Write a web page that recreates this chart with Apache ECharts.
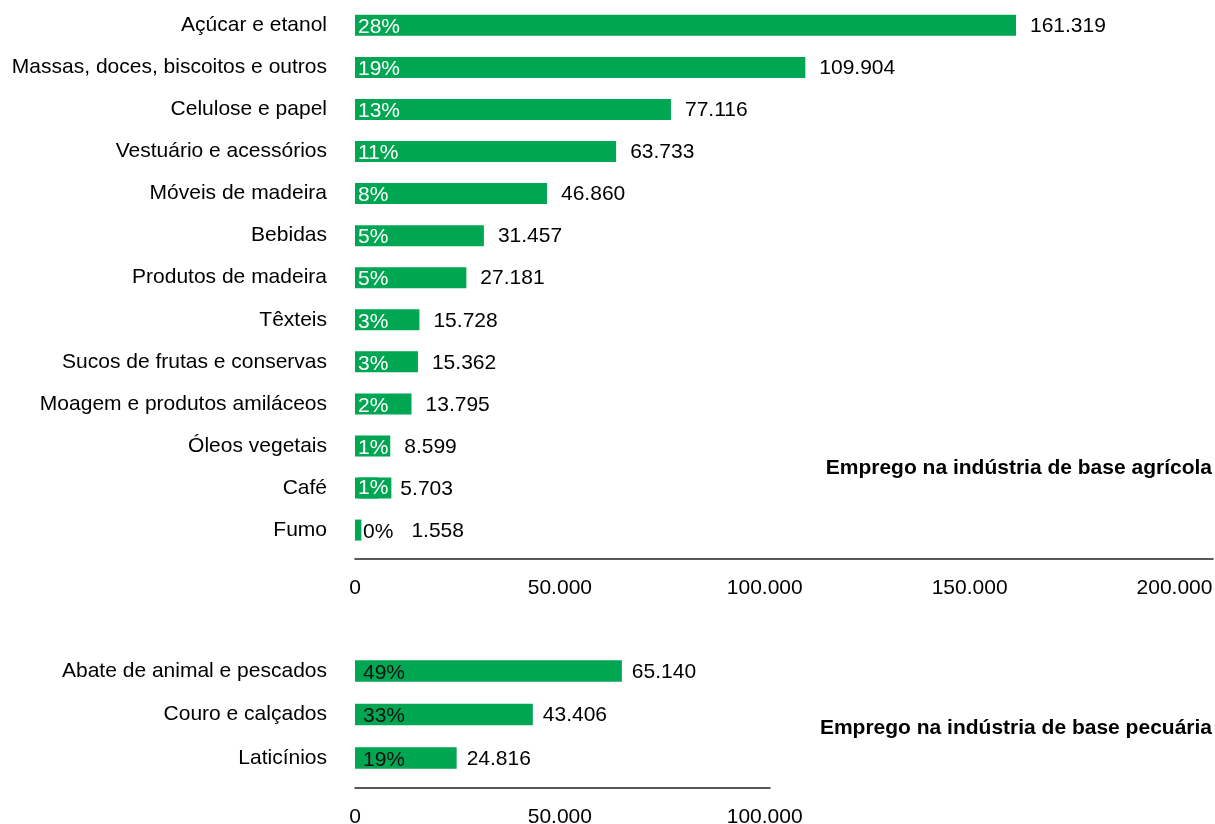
<!DOCTYPE html>
<html lang="pt-BR">
<head>
<meta charset="utf-8">
<title>Emprego na indústria de base agrícola e pecuária</title>
<script src="https://cdn.jsdelivr.net/npm/echarts@6/dist/echarts.min.js"></script>
<style>
  html, body { margin: 0; padding: 0; background: #fff; }
  #chart { width: 1215px; height: 824px; }
</style>
</head>
<body>
<div id="chart"></div>
<script>
// Agricultural-base industries: jobs and share of the total
const agriCategories = [
  'Açúcar e etanol',
  'Massas, doces, biscoitos e outros',
  'Celulose e papel',
  'Vestuário e acessórios',
  'Móveis de madeira',
  'Bebidas',
  'Produtos de madeira',
  'Têxteis',
  'Sucos de frutas e conservas',
  'Moagem e produtos amiláceos',
  'Óleos vegetais',
  'Café',
  'Fumo'
];
const agriJobs = [161319, 109904, 77116, 63733, 46860, 31457, 27181, 15728, 15362, 13795, 8599, 5703, 1558];
const agriShares = [28, 19, 13, 11, 8, 5, 5, 3, 3, 2, 1, 1, 0];
const agriTicks = [0, 50000, 100000, 150000, 200000];

// Livestock-base industries
const livestockCategories = ['Abate de animal e pescados', 'Couro e calçados', 'Laticínios'];
const livestockJobs = [65140, 43406, 24816];
const livestockShares = [49, 33, 19];
const livestockTicks = [0, 50000, 100000];

const agriTitle = 'Emprego na indústria de base agrícola';
const livestockTitle = 'Emprego na indústria de base pecuária';

const FONT = '"Liberation Sans", Arial, Helvetica, sans-serif';
const GREEN = '#00a651';
const INK = '#000';

// Brazilian thousands separator: 161319 -> "161.319"
function fmt(v) {
  return String(Math.round(v)).replace(/\B(?=(\d{3})+(?!\d))/g, '.');
}

// Per-category nudges for the labels beside and inside the bars
const valueGapAgri = { 'Café': 22, 'Fumo': 50 };
const shareStyleAgri = {
  'Fumo': { color: INK, distance: 8 },
  // the share label is wider than this short bar, so it gets a green box of its own
  'Café': { backgroundColor: GREEN, lineHeight: 21, padding: [0, 3, 0, 0], offset: [0, 0] }
};

function valueAxis(gridIndex, max, ticks) {
  return {
    type: 'value', gridIndex, min: 0, max, interval: 50000,
    offset: 8,
    axisLine: { show: true, onZero: false, lineStyle: { color: '#222', width: 1.5 } },
    axisTick: { show: false },
    splitLine: { show: false },
    axisLabel: {
      fontFamily: FONT, fontSize: 21, color: INK, margin: 19,
      formatter: v => (ticks.includes(v) ? fmt(v) : '')
    }
  };
}

function categoryAxis(gridIndex, cats) {
  return {
    type: 'category', gridIndex, data: cats, inverse: true,
    axisLine: { show: false }, axisTick: { show: false },
    axisLabel: { fontFamily: FONT, fontSize: 21, color: INK, margin: 28 }
  };
}

function shareSeries(idx, cats, vals, shares, barW, baseLabel, overrides) {
  return {
    type: 'bar', xAxisIndex: idx, yAxisIndex: idx, barWidth: barW, barGap: '-100%',
    silent: true,
    itemStyle: { color: GREEN },
    label: Object.assign({
      show: true, position: 'insideLeft', fontFamily: FONT, fontSize: 21,
      offset: [0, 2],
      formatter: p => shares[p.dataIndex] + '%'
    }, baseLabel),
    data: vals.map((v, i) => {
      const o = overrides[cats[i]];
      return o ? { value: v, label: o } : v;
    })
  };
}

function valueSeries(idx, cats, vals, barW, gap, gaps) {
  return {
    type: 'bar', xAxisIndex: idx, yAxisIndex: idx, barWidth: barW, barGap: '-100%',
    silent: true,
    itemStyle: { color: 'transparent' },
    label: {
      show: true, position: 'right', distance: gap, fontFamily: FONT, fontSize: 21,
      color: INK, offset: [0, 1],
      formatter: p => fmt(p.value)
    },
    data: vals.map((v, i) => {
      const d = gaps[cats[i]];
      return d !== undefined ? { value: v, label: { distance: d } } : v;
    })
  };
}

const chart = echarts.init(document.getElementById('chart'), null, { renderer: 'canvas' });

chart.setOption({
  animation: false,
  backgroundColor: '#fff',
  grid: [
    { left: 355, top: 4.3, width: 858, height: 546.8, outerBoundsMode: 'none' },
    { left: 355, top: 649.25, width: 415, height: 130.5, outerBoundsMode: 'none' }
  ],
  xAxis: [
    valueAxis(0, 209400, agriTicks),
    valueAxis(1, 101300, livestockTicks)
  ],
  yAxis: [
    categoryAxis(0, agriCategories),
    categoryAxis(1, livestockCategories)
  ],
  series: [
    shareSeries(0, agriCategories, agriJobs, agriShares, 21,
      { color: '#fff', distance: 3 }, shareStyleAgri),
    valueSeries(0, agriCategories, agriJobs, 21, 14, valueGapAgri),
    shareSeries(1, livestockCategories, livestockJobs, livestockShares, 21.5,
      { color: '#111', distance: 8 }, {}),
    valueSeries(1, livestockCategories, livestockJobs, 21.5, 10, {})
  ],
  graphic: [
    {
      type: 'text', x: 1212, y: 468, silent: true,
      style: { text: agriTitle, fontFamily: FONT, fontSize: 21, fontWeight: 'bold',
               fill: INK, textAlign: 'right', textVerticalAlign: 'middle' }
    },
    {
      type: 'text', x: 1212, y: 728, silent: true,
      style: { text: livestockTitle, fontFamily: FONT, fontSize: 21, fontWeight: 'bold',
               fill: INK, textAlign: 'right', textVerticalAlign: 'middle' }
    }
  ]
});
</script>
</body>
</html>
